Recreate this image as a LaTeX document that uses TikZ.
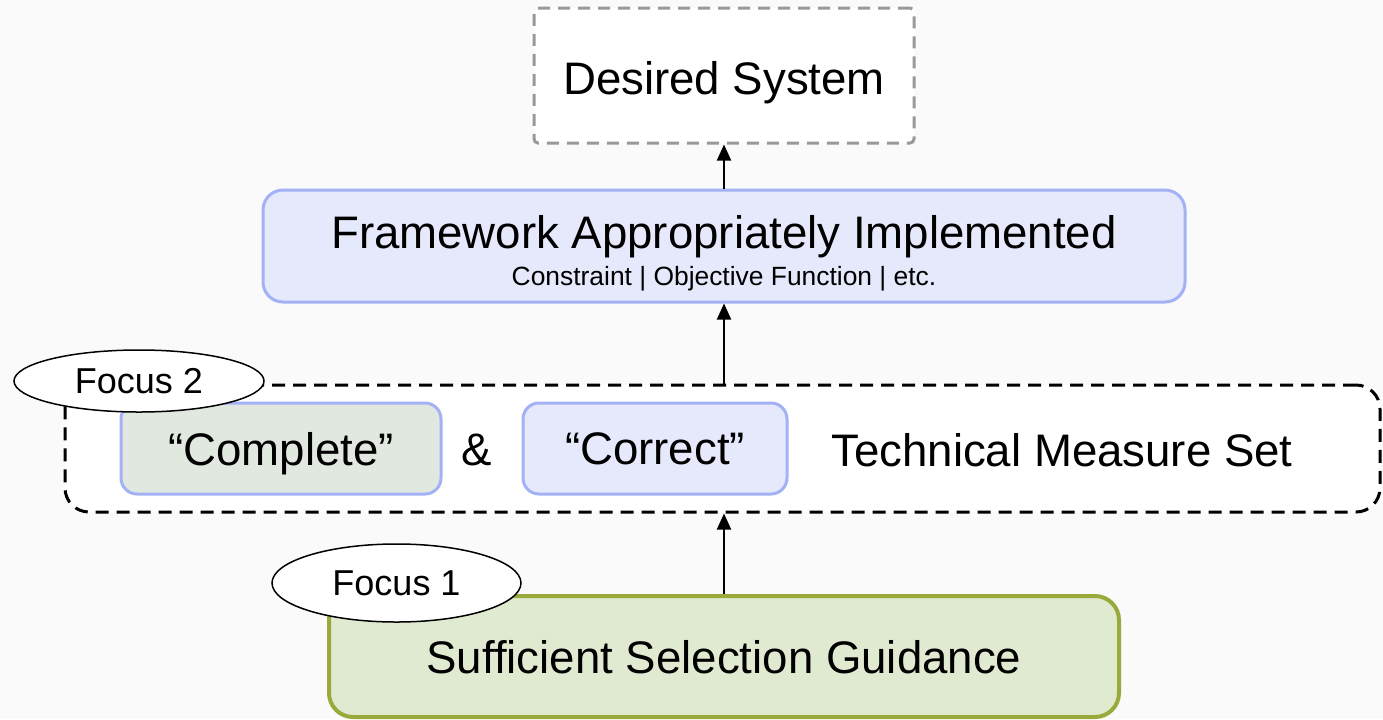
\documentclass[tikz,border=0pt]{standalone}
\usepackage{fontspec}
\setmainfont{Liberation Sans}
\usetikzlibrary{shapes.geometric,arrows.meta}
\definecolor{bgc}{HTML}{FAFAFA}
\definecolor{lavfill}{HTML}{E6E9FB}
\definecolor{lavdraw}{HTML}{A3B1F5}
\definecolor{grnfill}{HTML}{E1E8E0}
\definecolor{olvfill}{HTML}{E0EAD0}
\definecolor{olvdraw}{HTML}{99AA3A}
\definecolor{dgray}{HTML}{999999}
\tikzset{
  big/.style={font=\fontsize{22.8}{27}\selectfont, text depth=0pt},
  focusfont/.style={font=\fontsize{18}{21}\selectfont},
  lavbox/.style={draw=lavdraw, fill=lavfill, line width=1.5pt, rounded corners=8pt, inner sep=0pt},
  conn/.style={line width=1pt, -{Triangle[length=8pt,width=7pt]}},
  focusell/.style={ellipse, draw=black, line width=0.75pt, fill=white, inner sep=0pt, focusfont},
}
\begin{document}
\begin{tikzpicture}[x=0.5pt,y=-0.5pt]
\useasboundingbox[fill=bgc] (0,0) rectangle (1383,719);
% Desired System
\node[draw=dgray, fill=white, line width=1.5pt, dash pattern=on 6pt off 4pt, rounded corners=2pt,
      minimum width=190pt, minimum height=67.5pt, inner sep=0pt, big] (des) at (724,75.5) {\rule{0pt}{19pt}Desired System};
% Framework
\node[lavbox, rounded corners=10pt, minimum width=461pt, minimum height=56pt, align=center] (fw) at (724,246)
  {{\fontsize{22.8}{27}\selectfont\rule{0pt}{24pt}Framework Appropriately Implemented}\\[3pt]{\fontsize{13.2}{15}\selectfont Constraint | Objective Function | etc.}};
% Container
\node[draw=black, fill=white, line width=1.5pt, dash pattern=on 6.5pt off 4pt, rounded corners=12pt,
      minimum width=657.5pt, minimum height=63.5pt, inner sep=0pt] (cont) at (722.5,448.5) {};
\node[lavbox, fill=grnfill, minimum width=160pt, minimum height=45.5pt, big] (compl) at (281,448.5) {“Complete”};
\node[big] (amp) at (477,450) {\&};
\node[lavbox, minimum width=132pt, minimum height=45.5pt, big] (corr) at (655,448.5) {“Correct”};
\node[big] (tms) at (1062,450) {Technical Measure Set};
\node[focusell, minimum width=125pt, minimum height=31pt] (f2) at (139,381) {Focus 2};
% Sufficient
\node[draw=olvdraw, fill=olvfill, line width=2pt, rounded corners=12pt,
      minimum width=395pt, minimum height=60.5pt, inner sep=0pt, big] (suff) at (724,656.5) {Sufficient Selection Guidance};
\node[focusell, minimum width=124.5pt, minimum height=39pt] (f1) at (396.5,583) {Focus 1};
% connectors
\draw[conn] (fw.north) -- (des.south);
\draw[conn] (cont.north -| fw.south) -- (fw.south);
\draw[conn] (suff.north) -- (suff.north |- cont.south);
\end{tikzpicture}
\end{document}
